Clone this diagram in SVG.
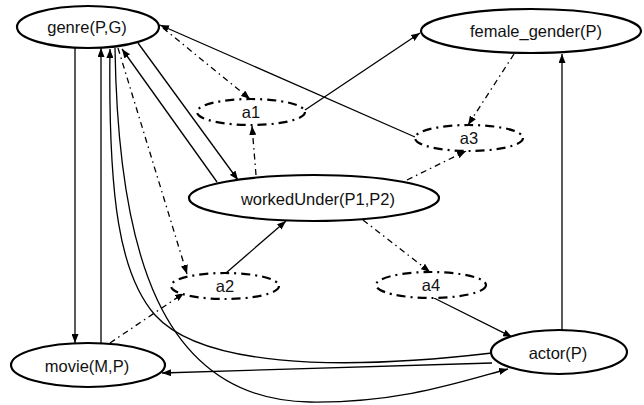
<svg xmlns="http://www.w3.org/2000/svg" width="644" height="405" viewBox="0 0 644 405">
  <defs>
    <marker id="arrow" markerUnits="userSpaceOnUse" markerWidth="9" markerHeight="7" refX="9" refY="3.5" orient="auto">
      <path d="M0,0 L9,3.5 L0,7 z" fill="#000"/>
    </marker>
    <style>
      .node { fill: #fff; stroke: #000; stroke-width: 2.2; }
      .aux { fill: #fff; stroke: #000; stroke-width: 2.2; stroke-dasharray: 9 5 2 5; }
      .label { font-family: "Liberation Sans", Arial, sans-serif; font-size: 16.5px; fill: #111; text-anchor: middle; }
      .edge { fill: none; stroke: #000; stroke-width: 1.3; marker-end: url(#arrow); }
      .dd { stroke-dasharray: 6 4 1.5 4; }
    </style>
  </defs>
  <rect width="644" height="405" fill="#fff"/>

  <!-- connectors -->
  <g id="connectors">
    <path class="edge" d="M75,48 L75,343"/>
    <path class="edge" d="M101,343 L101,48"/>
    <path class="edge" d="M492,353 C330,372 200,365 155,315 C120,275 108,200 110,49"/>
    <path class="edge" d="M115,48 C118,250 160,400 310,402 C400,403 460,382 508,369"/>
    <path class="edge" d="M217,182 L122,49"/>
    <path class="edge" d="M138,43 L238,180"/>
    <path class="edge dd" d="M163,28 L250,99"/>
    <path class="edge" d="M415,137 L160,25"/>
    <path class="edge dd" d="M256,175 L252,126"/>
    <path class="edge" d="M305,110 L420,33"/>
    <path class="edge dd" d="M514,54 L468,125"/>
    <path class="edge dd" d="M407,180 L466,151"/>
    <path class="edge" d="M562,330 L562,54"/>
    <path class="edge dd" d="M363,220 L430,272"/>
    <path class="edge" d="M434,298 L512,337"/>
    <path class="edge" d="M226,273 L286,221"/>
    <path class="edge dd" d="M118,48 L187,274"/>
    <path class="edge dd" d="M110,343 L184,293"/>
    <path class="edge" d="M492,363 L162,373"/>
  </g>

  <g id="genre">
    <ellipse class="node" cx="88" cy="27" rx="71" ry="21"/>
    <text class="label" x="87" y="33">genre(P,G)</text>
  </g>
  <g id="female_gender">
    <ellipse class="node" cx="531" cy="31" rx="110" ry="22"/>
    <text class="label" x="536" y="37">female_gender(P)</text>
  </g>
  <g id="a1">
    <ellipse class="aux" cx="251" cy="112" rx="54" ry="13"/>
    <text class="label" x="251" y="118">a1</text>
  </g>
  <g id="workedUnder">
    <ellipse class="node" cx="314" cy="198" rx="125" ry="23"/>
    <text class="label" x="318" y="205">workedUnder(P1,P2)</text>
  </g>
  <g id="a3">
    <ellipse class="aux" cx="469" cy="138" rx="54" ry="13"/>
    <text class="label" x="469" y="144">a3</text>
  </g>
  <g id="a2">
    <ellipse class="aux" cx="225" cy="286" rx="54" ry="13"/>
    <text class="label" x="225" y="292">a2</text>
  </g>
  <g id="a4">
    <ellipse class="aux" cx="431" cy="285" rx="55" ry="13"/>
    <text class="label" x="431" y="291">a4</text>
  </g>
  <g id="movie">
    <ellipse class="node" cx="88" cy="365" rx="77" ry="22"/>
    <text class="label" x="87" y="372">movie(M,P)</text>
  </g>
  <g id="actor">
    <ellipse class="node" cx="559" cy="352" rx="68" ry="22"/>
    <text class="label" x="558" y="359">actor(P)</text>
  </g>
</svg>
